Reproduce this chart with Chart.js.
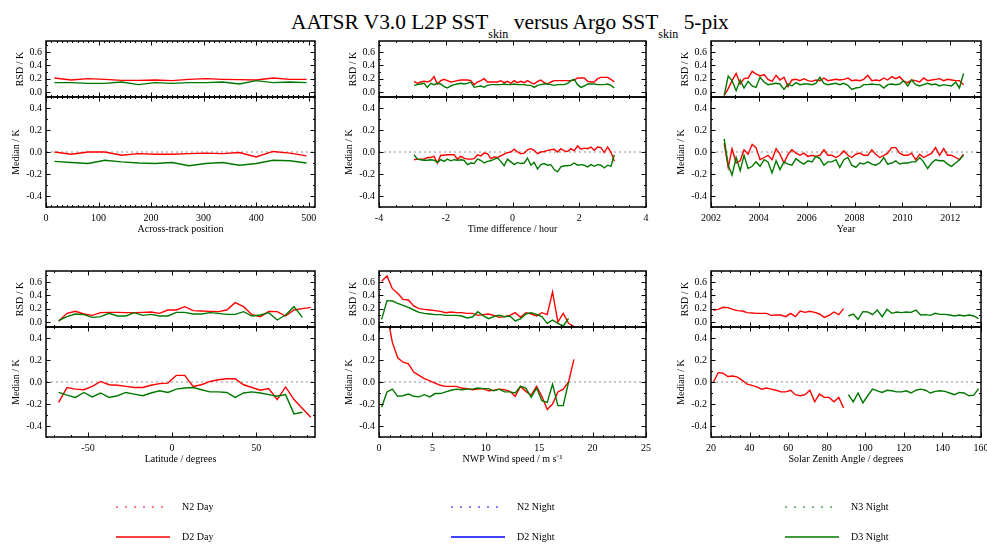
<!DOCTYPE html>
<html>
<head>
<meta charset="utf-8">
<script src="https://cdn.jsdelivr.net/npm/chart.js@4.4.1/dist/chart.umd.min.js"></script>
<style>
html,body{margin:0;padding:0;background:#fff;overflow:hidden;}
#page{position:relative;width:987px;height:546px;overflow:hidden;font-family:'Liberation Serif','Times New Roman',serif;color:#000;}
#page canvas{position:absolute;left:0;top:0;}
#title{position:absolute;left:291px;top:12px;font-size:21.4px;line-height:21px;white-space:nowrap;}
#title .sub{font-size:12px;vertical-align:-9px;}
.legline{position:absolute;}
.legtext{position:absolute;font-size:10px;line-height:12px;white-space:nowrap;}
</style>
</head>
<body>
<div id="page">
  <div id="title">AATSR V3.0 L2P SST<span class="sub">skin</span> versus Argo SST<span class="sub">skin</span> 5-pix</div>
</div>
<script>
// ---------------- DATA ----------------
// Panel 1: across-track position
const acrossX = [16,48,80,112,144,176,208,240,272,304,336,368,400,432,464,496];
const acrossRsdD2Day = [0.21,0.18,0.20,0.19,0.175,0.175,0.18,0.17,0.19,0.20,0.19,0.185,0.18,0.21,0.19,0.19];
const acrossRsdD3Night = [0.14,0.14,0.13,0.13,0.15,0.11,0.14,0.13,0.14,0.14,0.15,0.12,0.17,0.14,0.15,0.14];
const acrossMedD2Day = [0.0,-0.02,0.0,0.0,-0.03,-0.015,-0.02,-0.02,-0.015,-0.01,-0.015,-0.005,-0.045,0.005,-0.01,-0.035];
const acrossMedD3Night = [-0.085,-0.095,-0.105,-0.075,-0.09,-0.10,-0.105,-0.095,-0.125,-0.105,-0.095,-0.12,-0.105,-0.075,-0.08,-0.10];
const acrossTicks = [0,100,200,300,400,500];

// Panel 2: time difference (hours)
const timeX = [-2.95,-2.85,-2.75,-2.65,-2.55,-2.45,-2.35,-2.25,-2.15,-2.05,
  -1.95,-1.85,-1.75,-1.65,-1.55,-1.45,-1.35,-1.25,-1.15,-1.05,
  -0.95,-0.85,-0.75,-0.65,-0.55,-0.45,-0.35,-0.25,-0.15,-0.05,
  0.05,0.15,0.25,0.35,0.45,0.55,0.65,0.75,0.85,0.95,
  1.05,1.15,1.25,1.35,1.45,1.55,1.65,1.75,1.85,1.95,
  2.05,2.15,2.25,2.35,2.45,2.55,2.65,2.75,2.85,2.95,3.05];
const timeRsdD2Day = [0.16,0.13,0.15,0.16,0.15,0.17,0.23,0.12,0.17,0.19,
  0.17,0.15,0.16,0.17,0.18,0.18,0.18,0.17,0.11,0.15,
  0.17,0.2,0.15,0.15,0.15,0.15,0.17,0.14,0.16,0.13,
  0.17,0.14,0.16,0.14,0.17,0.14,0.12,0.16,0.18,0.14,
  0.12,0.15,0.17,0.17,0.17,0.17,0.17,0.17,0.18,0.21,
  0.21,0.21,0.16,0.15,0.15,0.2,0.22,0.22,0.22,0.19,0.15];
const timeRsdD3Night = [0.1,0.11,0.12,0.13,0.07,0.13,0.11,0.13,0.12,0.08,
  0.06,0.09,0.11,0.12,0.13,0.12,0.13,0.15,0.07,0.08,
  0.09,0.07,0.1,0.11,0.11,0.11,0.11,0.12,0.11,0.11,
  0.12,0.11,0.11,0.11,0.1,0.1,0.07,0.1,0.11,0.12,
  0.12,0.11,0.1,0.11,0.11,0.11,0.13,0.17,0.19,0.11,
  0.07,0.09,0.12,0.12,0.12,0.11,0.11,0.11,0.12,0.1,0.06];
const timeMedD2Day = [-0.07,-0.065,-0.065,-0.065,-0.05,-0.05,-0.04,-0.1,-0.03,-0.03,
  -0.025,-0.025,-0.025,-0.065,-0.04,-0.055,-0.065,-0.065,-0.06,-0.025,
  -0.035,-0.01,-0.015,-0.06,-0.045,-0.05,-0.035,-0.02,-0.005,0.0,
  0.025,0.0,-0.015,-0.01,0.02,0.03,0.015,-0.015,0.0,0.005,
  0.015,0.02,0.025,0.0,0.03,0.01,0.005,0.03,0.01,0.055,
  0.025,0.035,0.03,0.045,0.015,0.045,0.04,-0.005,0.045,0.0,-0.085];
const timeMedD3Night = [-0.025,-0.065,-0.07,-0.075,-0.075,-0.07,-0.075,-0.095,-0.07,-0.085,
  -0.065,-0.08,-0.07,-0.075,-0.07,-0.075,-0.115,-0.1,-0.105,-0.065,
  -0.075,-0.1,-0.085,-0.08,-0.065,-0.055,-0.085,-0.125,-0.065,-0.09,
  -0.115,-0.095,-0.105,-0.1,-0.055,-0.12,-0.095,-0.155,-0.115,-0.105,
  -0.12,-0.115,-0.16,-0.18,-0.135,-0.125,-0.125,-0.12,-0.1,-0.12,
  -0.115,-0.12,-0.135,-0.115,-0.13,-0.115,-0.12,-0.145,-0.12,-0.13,-0.025];
const timeTicks = [-4,-2,0,2,4];

// Panel 3: year
const yearX = [2002.55,2002.72,2002.88,
  2003.05,2003.22,2003.38,2003.55,2003.72,2003.88,
  2004.05,2004.22,2004.38,2004.55,2004.72,2004.88,
  2005.05,2005.22,2005.38,2005.55,2005.72,2005.88,
  2006.05,2006.22,2006.38,2006.55,2006.72,2006.88,
  2007.05,2007.22,2007.38,2007.55,2007.72,2007.88,
  2008.05,2008.22,2008.38,2008.55,2008.72,2008.88,
  2009.05,2009.22,2009.38,2009.55,2009.72,2009.88,
  2010.05,2010.22,2010.38,2010.55,2010.72,2010.88,
  2011.05,2011.22,2011.38,2011.55,2011.72,2011.88,
  2012.05,2012.22,2012.38,2012.55];
const yearRsdD2Day = [-0.05,0.05,0.17,0.28,0.12,0.2,0.21,0.31,0.27,0.24,
  0.26,0.19,0.16,0.25,0.18,0.22,0.08,0.18,0.19,0.17,
  0.2,0.17,0.16,0.18,0.17,0.21,0.17,0.18,0.19,0.18,
  0.19,0.21,0.17,0.18,0.17,0.19,0.25,0.17,0.18,0.17,
  0.21,0.18,0.23,0.2,0.23,0.16,0.14,0.18,0.17,0.15,
  0.21,0.17,0.18,0.19,0.2,0.17,0.19,0.18,0.17,0.17,0.11];
const yearRsdD3Night = [-0.05,0.24,0.17,0.02,0.18,0.06,0.16,0.09,0.07,0.22,
  0.15,0.11,0.12,0.13,0.12,0.04,0.12,0.09,0.14,0.11,
  0.12,0.12,0.11,0.13,0.22,0.13,0.11,0.12,0.13,0.11,
  0.13,0.1,0.04,0.06,0.07,0.11,0.11,0.12,0.11,0.11,
  0.06,0.11,0.12,0.11,0.12,0.17,0.09,0.18,0.11,0.09,
  0.11,0.13,0.11,0.12,0.09,0.11,0.1,0.09,0.15,0.06,0.28];
const yearMedD2Day = [0.08,-0.14,0.03,-0.1,-0.08,0.02,-0.02,0.07,0.04,-0.07,
  -0.05,-0.03,-0.07,0.03,-0.02,-0.1,-0.02,0.02,-0.01,-0.03,
  -0.01,-0.04,-0.03,-0.04,-0.03,0.02,-0.03,-0.03,-0.05,-0.03,
  0.01,-0.03,-0.05,-0.02,-0.01,-0.03,-0.03,0.02,-0.02,-0.05,
  -0.03,-0.01,0.04,0.04,-0.01,-0.03,-0.03,-0.01,-0.07,-0.02,
  -0.05,-0.03,-0.01,0.04,-0.03,0.03,-0.03,-0.03,-0.05,-0.07,-0.02];
const yearMedD3Night = [0.12,-0.12,-0.21,-0.05,-0.17,-0.03,-0.15,-0.13,-0.09,-0.13,
  -0.07,-0.09,-0.19,-0.08,-0.16,-0.09,-0.11,-0.12,-0.06,-0.09,
  -0.11,-0.08,-0.09,-0.04,-0.06,-0.12,-0.09,-0.09,-0.07,-0.14,
  -0.07,-0.05,-0.12,-0.14,-0.1,-0.11,-0.09,-0.11,-0.12,-0.1,
  -0.05,-0.11,-0.1,-0.08,-0.11,-0.1,-0.1,-0.09,-0.09,-0.05,
  -0.09,-0.15,-0.1,-0.07,-0.08,-0.08,-0.11,-0.13,-0.1,-0.07,-0.03];
const yearTicks = [2002,2004,2006,2008,2010,2012];

// Panel 4: latitude
const latXDay = [-67.5,-62.5,-57.5,-52.5,-47.5,-42.5,-37.5,-32.5,-27.5,-22.5,
  -17.5,-12.5,-7.5,-2.5,2.5,7.5,12.5,17.5,22.5,27.5,
  32.5,37.5,42.5,47.5,52.5,57.5,62.5,67.5,72.5,77.5,82.5];
const latXNight = [-67.5,-62.5,-57.5,-52.5,-47.5,-42.5,-37.5,-32.5,-27.5,-22.5,
  -17.5,-12.5,-7.5,-2.5,2.5,7.5,12.5,17.5,22.5,27.5,
  32.5,37.5,42.5,47.5,52.5,57.5,62.5,67.5,72.5,77.5];
const latRsdD2Day = [0.01,0.13,0.16,0.12,0.10,0.14,0.145,0.145,0.14,0.14,
  0.145,0.15,0.13,0.18,0.18,0.23,0.17,0.165,0.16,0.155,
  0.18,0.29,0.23,0.11,0.08,0.16,0.155,0.09,0.18,0.2,0.22];
const latRsdD3Night = [0.02,0.08,0.12,0.11,0.07,0.08,0.13,0.09,0.09,0.14,
  0.1,0.115,0.09,0.09,0.145,0.145,0.12,0.12,0.14,0.13,
  0.115,0.115,0.155,0.09,0.105,0.14,0.03,0.105,0.23,0.07];
const latMedD2Day = [-0.185,-0.05,-0.065,-0.07,-0.04,0.005,-0.025,-0.03,-0.04,-0.05,
  -0.05,-0.03,-0.015,-0.01,0.06,0.06,-0.04,-0.025,0.005,0.02,
  0.03,0.03,-0.025,-0.05,-0.075,-0.06,-0.16,-0.045,-0.16,-0.24,-0.32];
const latMedD3Night = [-0.095,-0.12,-0.14,-0.095,-0.135,-0.1,-0.14,-0.125,-0.095,-0.11,
  -0.125,-0.1,-0.08,-0.095,-0.065,-0.055,-0.05,-0.07,-0.09,-0.09,
  -0.095,-0.14,-0.1,-0.09,-0.1,-0.115,-0.13,-0.115,-0.29,-0.275];
const latTicks = [-50,0,50];

// Panel 5: NWP wind speed
const windXDay = [0.25,0.75,1.25,1.75,2.25,2.75,3.25,3.75,4.25,4.75,
  5.25,5.75,6.25,6.75,7.25,7.75,8.25,8.75,9.25,9.75,
  10.25,10.75,11.25,11.75,12.25,12.75,13.25,13.75,14.25,14.75,
  15.25,15.75,16.25,16.75,17.25,17.75,18.25];
const windXNight = [0.25,0.75,1.25,1.75,2.25,2.75,3.25,3.75,4.25,4.75,
  5.25,5.75,6.25,6.75,7.25,7.75,8.25,8.75,9.25,9.75,
  10.25,10.75,11.25,11.75,12.25,12.75,13.25,13.75,14.25,14.75,
  15.25,15.75,16.25,16.75,17.25,17.75];
const windRsdD2Day = [0.61,0.69,0.5,0.43,0.34,0.33,0.24,0.2,0.19,0.18,
  0.17,0.16,0.14,0.15,0.14,0.14,0.13,0.13,0.1,0.11,
  0.12,0.1,0.07,0.08,0.1,0.14,0.07,0.14,0.12,0.09,
  0.14,0.11,0.45,0.0,0.13,-0.02,-0.07];
const windRsdD3Night = [0.04,0.32,0.315,0.28,0.25,0.22,0.18,0.145,0.13,0.12,
  0.11,0.11,0.1,0.1,0.1,0.09,0.06,0.075,0.155,0.095,
  0.05,0.08,0.1,0.08,0.09,0.015,0.045,0.12,0.14,0.115,
  0.08,-0.02,0.03,-0.02,-0.06,0.055];
const windMedD2Day = [0.9,0.62,0.36,0.22,0.18,0.165,0.09,0.06,0.03,0.01,
  -0.01,-0.03,-0.04,-0.04,-0.04,-0.055,-0.06,-0.07,-0.065,-0.06,
  -0.08,-0.075,-0.065,-0.07,-0.085,-0.13,-0.04,-0.085,-0.12,-0.04,
  -0.13,-0.25,-0.2,-0.09,-0.065,0.0,0.205];
const windMedD3Night = [-0.23,-0.09,-0.065,-0.13,-0.125,-0.11,-0.13,-0.135,-0.115,-0.135,
  -0.105,-0.105,-0.09,-0.075,-0.065,-0.07,-0.065,-0.065,-0.055,-0.06,
  -0.06,-0.08,-0.065,-0.09,-0.09,-0.1,-0.04,-0.055,-0.14,-0.055,
  -0.17,-0.185,-0.02,-0.215,-0.215,0.0];
const windTicks = [0,5,10,15,20,25];

// Panel 6: solar zenith angle
const szaXDay = [21.25,23.75,26.25,28.75,31.25,33.75,36.25,38.75,41.25,43.75,
  46.25,48.75,51.25,53.75,56.25,58.75,61.25,63.75,66.25,68.75,
  71.25,73.75,76.25,78.75,81.25,83.75,86.25,88.75];
const szaXNight = [91.25,93.75,96.25,98.75,101.25,103.75,106.25,108.75,111.25,113.75,
  116.25,118.75,121.25,123.75,126.25,128.75,131.25,133.75,136.25,138.75,
  141.25,143.75,146.25,148.75,151.25,153.75,156.25,158.75];
const szaRsdD2Day = [0.18,0.19,0.22,0.215,0.19,0.17,0.165,0.14,0.135,0.13,
  0.13,0.13,0.1,0.105,0.105,0.08,0.13,0.08,0.165,0.145,
  0.16,0.145,0.12,0.07,0.1,0.15,0.11,0.2];
const szaRsdD3Night = [0.09,0.12,0.04,0.155,0.15,0.11,0.18,0.08,0.19,0.13,
  0.15,0.14,0.15,0.145,0.18,0.105,0.11,0.1,0.13,0.115,
  0.115,0.105,0.09,0.105,0.09,0.105,0.09,0.05];
const szaMedD2Day = [0.0,0.085,0.08,0.05,0.055,0.045,0.015,-0.02,-0.03,-0.045,
  -0.065,-0.055,-0.065,-0.075,-0.09,-0.09,-0.075,-0.115,-0.125,-0.115,
  -0.075,-0.18,-0.11,-0.14,-0.14,-0.18,-0.14,-0.235];
const szaMedD3Night = [-0.115,-0.18,-0.1,-0.19,-0.125,-0.065,-0.08,-0.095,-0.075,-0.08,
  -0.09,-0.09,-0.08,-0.1,-0.075,-0.065,-0.075,-0.1,-0.085,-0.08,
  -0.085,-0.1,-0.115,-0.095,-0.1,-0.125,-0.12,-0.06];
const szaTicks = [20,40,60,80,100,120,140,160];

// y-axis tick labels
const rsdTicks = [0.0,0.2,0.4,0.6];
const medTicks = [-0.4,-0.2,0.0,0.2,0.4];

// legend
const legendLabels = ['N2 Day','N2 Night','N3 Night','D2 Day','D2 Night','D3 Night'];
const legendColors = ['#ff0000','#0000ff','#007800','#ff0000','#0000ff','#007800'];
const legendDotted = [true,true,true,false,false,false];

// ---------------- STYLE / LAYOUT ----------------
const FONT = "'Liberation Serif','Times New Roman',serif";
const RED = '#ff0000', GREEN = '#007800', ZERO = '#8c8c8c';
const CANVAS_W = 1040, CANVAS_H = 546;
const Y_AXIS_W = 44, X_AXIS_H = 28;

Chart.defaults.font.family = FONT;
Chart.defaults.font.size = 10;
Chart.defaults.color = '#000';

const panels = [
  {left:46, right:315, top:41, bottom:207, xmin:0, xmax:512, xTicks:acrossTicks, xMinor:10, xTitle:'Across-track position',
   day:{x:acrossX, rsd:acrossRsdD2Day, med:acrossMedD2Day}, night:{x:acrossX, rsd:acrossRsdD3Night, med:acrossMedD3Night}},
  {left:379, right:646, top:41, bottom:207, xmin:-4, xmax:4, xTicks:timeTicks, xMinor:0.5, xTitle:'Time difference / hour',
   day:{x:timeX, rsd:timeRsdD2Day, med:timeMedD2Day}, night:{x:timeX, rsd:timeRsdD3Night, med:timeMedD3Night}},
  {left:711, right:981, top:41, bottom:207, xmin:2002, xmax:2013.28, xTicks:yearTicks, xMinor:1, xTitle:'Year',
   day:{x:yearX, rsd:yearRsdD2Day, med:yearMedD2Day}, night:{x:yearX, rsd:yearRsdD3Night, med:yearMedD3Night}},
  {left:46, right:315, top:271, bottom:437, xmin:-75, xmax:85, xTicks:latTicks, xMinor:10, xTitle:'Latitude / degrees',
   day:{x:latXDay, rsd:latRsdD2Day, med:latMedD2Day}, night:{x:latXNight, rsd:latRsdD3Night, med:latMedD3Night}},
  {left:379, right:646, top:271, bottom:437, xmin:0, xmax:25, xTicks:windTicks, xMinor:1, xTitle:'NWP Wind speed / m s\u207B\u00B9',
   day:{x:windXDay, rsd:windRsdD2Day, med:windMedD2Day}, night:{x:windXNight, rsd:windRsdD3Night, med:windMedD3Night}},
  {left:711, right:981, top:271, bottom:437, xmin:20, xmax:160, xTicks:szaTicks, xMinor:5, xTitle:'Solar Zenith Angle / degrees',
   day:{x:szaXDay, rsd:szaRsdD2Day, med:szaMedD2Day}, night:{x:szaXNight, rsd:szaRsdD3Night, med:szaMedD3Night}}
];

function pts(xs, ys) { return xs.map((x, i) => ({x: x, y: ys[i]})); }

const idlFrame = {
  id: 'idlFrame',
  afterDraw(chart, args, opts) {
    const ctx = chart.ctx;
    const xs = chart.scales.x;
    ctx.save();
    ctx.strokeStyle = '#000';
    const seg = (x1, y1, x2, y2) => { ctx.beginPath(); ctx.moveTo(x1, y1); ctx.lineTo(x2, y2); ctx.stroke(); };
    ['yr', 'ym'].forEach(id => {
      const ys = chart.scales[id];
      const L = xs.left, R = xs.right, T = ys.top, B = ys.bottom;
      ctx.lineWidth = 1;
      const xStep = opts.xMinor;
      for (let v = Math.ceil(xs.min / xStep) * xStep; v <= xs.max + 1e-9; v += xStep) {
        const p = Math.round(xs.getPixelForValue(v)) + 0.5;
        seg(p, B, p, B - 2); seg(p, T, p, T + 2);
      }
      xs.ticks.forEach(t => {
        const p = Math.round(xs.getPixelForValue(t.value)) + 0.5;
        seg(p, B, p, B - 4.5); seg(p, T, p, T + 4.5);
      });
      const yStep = 0.1;
      for (let v = Math.ceil(ys.min / yStep) * yStep; v <= ys.max + 1e-9; v += yStep) {
        const p = Math.round(ys.getPixelForValue(v)) + 0.5;
        seg(L, p, L + 2, p); seg(R, p, R - 2, p);
      }
      ys.ticks.forEach(t => {
        const p = Math.round(ys.getPixelForValue(t.value)) + 0.5;
        seg(L, p, L + 4.5, p); seg(R, p, R - 4.5, p);
      });
      ctx.lineWidth = 1.5;
      ctx.strokeRect(L, T, R - L, B - T);
    });
    ctx.restore();
  }
};

const page = document.getElementById('page');

panels.forEach(p => {
  const canvas = document.createElement('canvas');
  canvas.width = CANVAS_W; canvas.height = CANVAS_H;
  canvas.style.width = CANVAS_W + 'px'; canvas.style.height = CANVAS_H + 'px';
  page.appendChild(canvas);
  const lineDs = (data, axis, color) => ({
    data: data, yAxisID: axis, xAxisID: 'x', borderColor: color, backgroundColor: color,
    borderWidth: 1.4, pointRadius: 0, tension: 0, fill: false
  });
  const datasets = [
    lineDs(pts(p.night.x, p.night.rsd), 'yr', GREEN),
    lineDs(pts(p.night.x, p.night.med), 'ym', GREEN),
    lineDs(pts(p.day.x, p.day.rsd), 'yr', RED),
    lineDs(pts(p.day.x, p.day.med), 'ym', RED),
    {data: [{x: p.xmin, y: 0}, {x: p.xmax, y: 0}], yAxisID: 'ym', xAxisID: 'x', borderColor: ZERO,
     borderWidth: 1, borderDash: [2, 3], pointRadius: 0, fill: false}
  ];
  const yCommon = (ticksArr, titleText, titlePad, mn, mx, weightH, order) => ({
    type: 'linear', position: 'left', stack: 'sub', stackWeight: weightH, weight: order,
    min: mn, max: mx,
    grid: {display: false, drawTicks: false, tickLength: 0}, border: {display: false},
    afterFit: s => { s.width = Y_AXIS_W; },
    afterBuildTicks: s => { s.ticks = ticksArr.map(v => ({value: v})); },
    ticks: {padding: 4, autoSkip: false, color: '#000', font: {family: FONT, size: 10}, callback: v => Number(v).toFixed(1)},
    title: {display: true, text: titleText, color: '#000', font: {family: FONT, size: 10}, padding: {top: titlePad, bottom: 0}}
  });
  new Chart(canvas, {
    type: 'line',
    data: {datasets: datasets},
    options: {
      responsive: false, animation: false, devicePixelRatio: 1,
      layout: {padding: {left: p.left - Y_AXIS_W, top: p.top, right: CANVAS_W - p.right, bottom: CANVAS_H - p.bottom - X_AXIS_H}},
      plugins: {legend: {display: false}, tooltip: {enabled: false}, idlFrame: {xMinor: p.xMinor}},
      scales: {
        x: {
          type: 'linear', position: 'bottom', min: p.xmin, max: p.xmax,
          grid: {display: false, drawTicks: false, tickLength: 0}, border: {display: false},
          afterFit: s => { s.height = X_AXIS_H; },
          afterBuildTicks: s => { s.ticks = p.xTicks.map(v => ({value: v})); },
          ticks: {padding: 5, color: '#000', autoSkip: false, maxRotation: 0, font: {family: FONT, size: 10}, callback: v => String(v)},
          title: {display: true, text: p.xTitle, color: '#000', font: {family: FONT, size: 10}, padding: {top: 0, bottom: 0}}
        },
        yr: yCommon(rsdTicks, 'RSD / K', 12, -0.075, 0.765, 56, 1),
        ym: yCommon(medTicks, 'Median / K', 8, -0.5, 0.5, 110, 0)
      }
    },
    plugins: [idlFrame]
  });
});

// legend (HTML)
const legCols = [116, 451, 785];
const legRows = [507, 537];
legendLabels.forEach((lab, i) => {
  const cx = legCols[i % 3], cy = legRows[Math.floor(i / 3)];
  const svgNS = 'http://www.w3.org/2000/svg';
  const svg = document.createElementNS(svgNS, 'svg');
  svg.setAttribute('width', '56'); svg.setAttribute('height', '6');
  svg.setAttribute('class', 'legline');
  svg.style.left = cx + 'px'; svg.style.top = (cy - 3) + 'px';
  const ln = document.createElementNS(svgNS, 'line');
  ln.setAttribute('x1', '0'); ln.setAttribute('x2', '54');
  ln.setAttribute('y1', '3'); ln.setAttribute('y2', '3');
  ln.setAttribute('stroke', legendColors[i]);
  ln.setAttribute('stroke-width', legendDotted[i] ? '1.2' : '1.5');
  if (legendDotted[i]) ln.setAttribute('stroke-dasharray', '2 7');
  svg.appendChild(ln);
  page.appendChild(svg);
  const t = document.createElement('div');
  t.className = 'legtext';
  t.textContent = lab;
  t.style.left = (cx + 66) + 'px'; t.style.top = (cy - 6) + 'px';
  page.appendChild(t);
});
</script>
</body>
</html>
